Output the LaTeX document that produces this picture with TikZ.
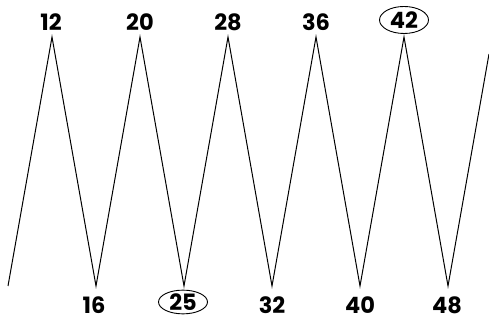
\documentclass[tikz,border=0pt]{standalone}
\usepackage{fontspec}
\setmainfont{Poppins}
\usetikzlibrary{shapes.geometric}
\tikzset{
	num/.style={
		font=\bfseries\fontsize{22.5}{22.5}\selectfont,
		inner sep=0pt, text=black
	},
	picked/.style={
		num, draw, ellipse, line width=0.9pt,
		minimum width=49pt, inner sep=0pt
	},
	zigzag/.style={line width=1pt, line join=miter}
}
\begin{document}
\begin{tikzpicture}[x=1pt,y=1pt]
				\useasboundingbox (0,0) rectangle (489,320);
				% top labels
				\node[num]    (n12) at (51,298)  {12};
				\node[num]    (n20) at (140,298) {20};
				\node[num]    (n28) at (228,298) {28};
				\node[num]    (n36) at (316,298) {36};
				\node[picked, minimum height=27pt] (n42) at (404,300) {42};
				% bottom labels
				\node[num]    (n16) at (94,15)  {16};
				\node[picked, minimum height=23pt] (n25) at (183,18) {25};
				\node[num]    (n32) at (272,15) {32};
				\node[num]    (n40) at (360,15) {40};
				\node[num]    (n48) at (447,15) {48};
				% turning points
				\coordinate (start) at (8,34);
				\coordinate (p12) at (52,283);
				\coordinate (p20) at (140,283);
				\coordinate (p28) at (228,283);
				\coordinate (p36) at (316,283);
				\coordinate (p42) at (404,283);
				\coordinate (v16) at (96,34);
				\coordinate (v25) at (184,34);
				\coordinate (v32) at (272,34);
				\coordinate (v40) at (360,34);
				\coordinate (v48) at (448,34);
				\coordinate (stop) at (489,266);
				\draw[zigzag] (start) -- (p12) -- (v16) -- (p20) -- (v25) -- (p28)
					-- (v32) -- (p36) -- (v40) -- (p42) -- (v48) -- (stop);
			\end{tikzpicture}
\end{document}
